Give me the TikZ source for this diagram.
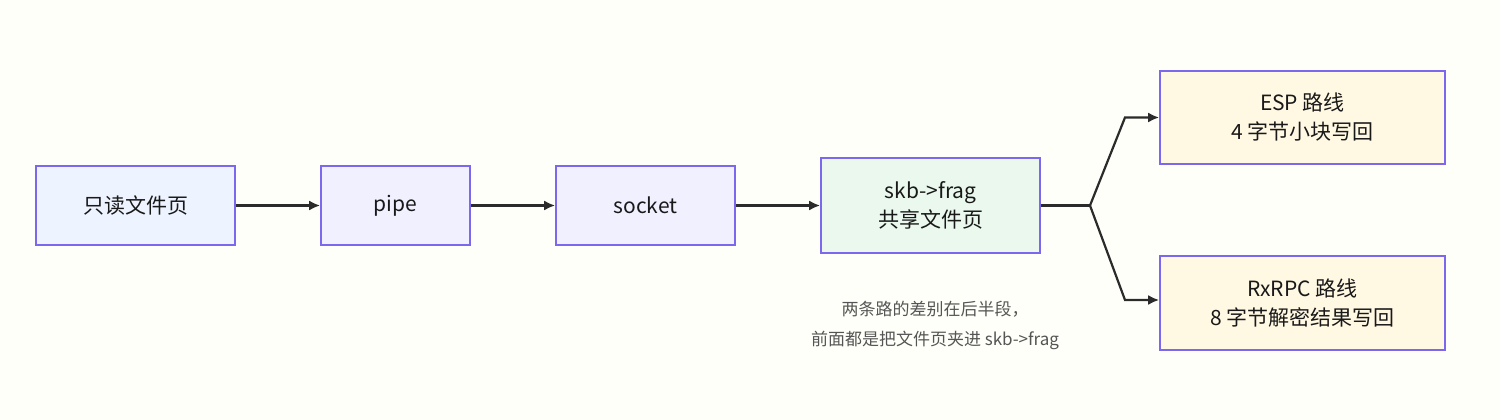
\documentclass[tikz,border=0pt]{standalone}
\usepackage{fontspec}
\setmainfont{Noto Sans CJK SC}
\usetikzlibrary{positioning,calc,arrows.meta}
\definecolor{edgeP}{HTML}{7B68EE}
\definecolor{fillA}{HTML}{EEF4FF}
\definecolor{fillB}{HTML}{F1F0FF}
\definecolor{fillC}{HTML}{EAF8EE}
\definecolor{fillD}{HTML}{FFF8E3}
\definecolor{lineK}{HTML}{2B2B2B}
\definecolor{noteK}{HTML}{555555}
\tikzset{
  box/.style={draw=edgeP,line width=1.6pt,align=center,inner sep=0pt,
    font=\fontsize{21}{29}\selectfont,text=black!90},
  flow/.style={lineK,line width=2.2pt,-{Latex[length=11pt,width=10pt]}},
}
\begin{document}
\begin{tikzpicture}[x=1pt,y=-1pt]
\fill[white!98!yellow] (0,0) rectangle (1500,420);
\useasboundingbox (0,0) rectangle (1500,420);
% Main chain
\node[box,fill=fillA,minimum width=199pt,minimum height=79pt] (page) at (135.5,205.5) {只读文件页};
\node[box,fill=fillB,minimum width=149pt,minimum height=79pt] (pipe) at (395.5,205.5) {pipe};
\node[box,fill=fillB,minimum width=179pt,minimum height=79pt] (sock) at (645.5,205.5) {socket};
\node[box,fill=fillC,minimum width=219pt,minimum height=95pt] (frag) at (930.5,205.5) {skb->frag\\共享文件页};
% Two routes
\node[box,fill=fillD,minimum width=285pt,minimum height=93pt] (esp) at (1302.5,117.5) {ESP 路线\\4 字节小块写回};
\node[box,fill=fillD,minimum width=285pt,minimum height=94pt] (rxrpc) at (1302.5,303) {RxRPC 路线\\8 字节解密结果写回};
\draw[flow] (page) -- (pipe);
\draw[flow] (pipe) -- (sock);
\draw[flow] (sock) -- (frag);
% Fork point
\coordinate (fork) at (1090,205.5);
\draw[lineK,line width=2.2pt] (frag) -- (fork);
\draw[flow] (fork) -- (1125,117.5) -- (esp.west);
\draw[flow] (fork) -- (1125,300) -- (rxrpc.west |- 0,300);
% Note
\node[align=center,text=noteK,font=\fontsize{17}{30}\selectfont] (note) at (935,325) {两条路的差别在后半段，\\前面都是把文件页夹进 skb->frag};
\end{tikzpicture}
\end{document}
